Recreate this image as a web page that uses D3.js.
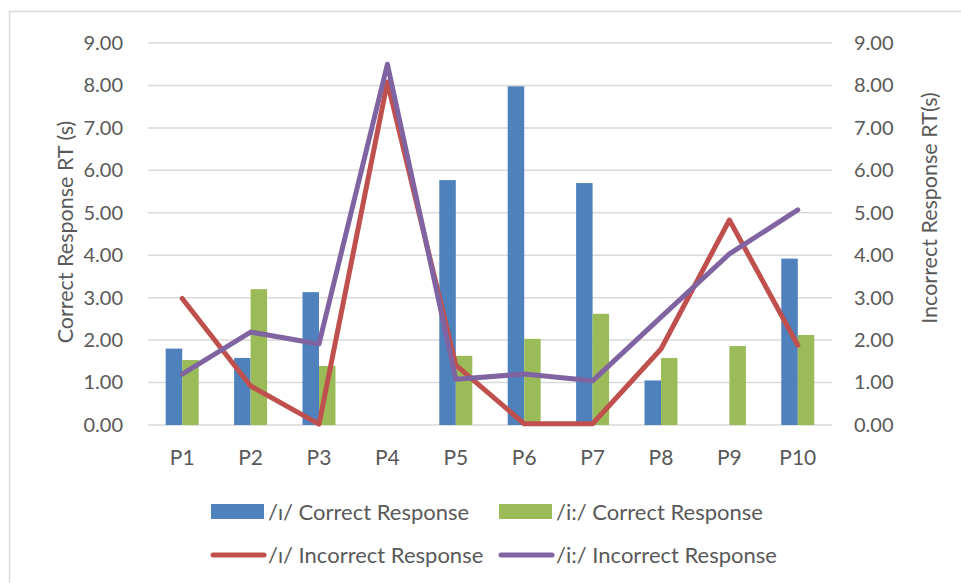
<!DOCTYPE html>
<html><head><meta charset="utf-8">
<script src="https://cdn.jsdelivr.net/npm/d3@7"></script>
<style>body{margin:0;background:#fff;}svg{display:block;font-family:Lato,"Open Sans",sans-serif;}</style>
</head><body>
<svg id="c" width="961" height="583"></svg>
<script>
const categories = ["P1","P2","P3","P4","P5","P6","P7","P8","P9","P10"];
const ihCorrect   = [1.80,1.58,3.13,0,5.77,7.98,5.70,1.05,0,3.92];
const iiCorrect   = [1.53,3.20,1.39,0,1.63,2.03,2.62,1.58,1.86,2.12];
const ihIncorrect = [2.98,0.92,0.02,8.08,1.41,0.03,0.03,1.79,4.83,1.88];
const iiIncorrect = [1.20,2.19,1.91,8.50,1.08,1.20,1.04,2.54,4.03,5.07];
const yTicks = [0,1,2,3,4,5,6,7,8,9];
const seriesNames = ["/ɪ/ Correct Response","/i:/ Correct Response","/ɪ/ Incorrect Response","/i:/ Incorrect Response"];
const colors = ["#4F81BD","#9BBB59","#C0504D","#8064A2"];

(function(){
const svg = d3.select("#c");
const pL = 148, pR = 832, pT = 43, pB = 425;
const FONT = "Lato,'Open Sans',sans-serif";

svg.append("rect").attr("x",9.5).attr("y",11.5).attr("width",1000).attr("height",700)
  .attr("fill","none").attr("stroke","#d9d9d9").attr("stroke-width",1.5);

const x = d3.scaleBand().domain(categories).range([pL,pR]);
const yL = d3.scaleLinear().domain([0,9]).range([pB,pT]);
const yR = d3.scaleLinear().domain([0,9]).range([pB,pT]);

svg.append("g").selectAll("line").data(yTicks).join("line")
  .attr("x1",pL).attr("x2",pR).attr("y1",d=>yL(d)).attr("y2",d=>yL(d))
  .attr("stroke","#d9d9d9").attr("stroke-width",1.5);

const axL = svg.append("g").attr("transform",`translate(${pL},0)`)
  .call(d3.axisLeft(yL).tickValues(yTicks).tickFormat(d3.format(".2f")).tickSize(0).tickPadding(25));
axL.select(".domain").remove();
axL.selectAll("text").attr("fill","#595959").attr("font-size",20).attr("font-family",FONT);

const axR = svg.append("g").attr("transform",`translate(${pR},0)`)
  .call(d3.axisRight(yR).tickValues(yTicks).tickFormat(d3.format(".2f")).tickSize(0).tickPadding(22));
axR.select(".domain").remove();
axR.selectAll("text").attr("fill","#595959").attr("font-size",20).attr("font-family",FONT);

const axB = svg.append("g").attr("transform",`translate(0,${pB})`)
  .call(d3.axisBottom(x).tickSize(0).tickPadding(25));
axB.select(".domain").remove();
axB.selectAll("text").attr("fill","#595959").attr("font-size",21).attr("font-family",FONT);

const inner = d3.scaleBand().domain([0,1]).range([0, 33]);
const off = (x.bandwidth()-33)/2;
[ihCorrect, iiCorrect].forEach((vals,si)=>{
  svg.append("g").selectAll("rect").data(vals).join("rect")
    .attr("x",(d,i)=>x(categories[i])+off+inner(si))
    .attr("width",inner.bandwidth())
    .attr("y",d=>yL(d)).attr("height",d=>pB-yL(d))
    .attr("fill",colors[si]);
});

const line = d3.line().x((d,i)=>x(categories[i])+x.bandwidth()/2).y(d=>yR(d));
[ihIncorrect, iiIncorrect].forEach((vals,si)=>{
  svg.append("path").datum(vals).attr("d",line).attr("fill","none")
    .attr("stroke",colors[si+2]).attr("stroke-width",5)
    .attr("stroke-linejoin","round").attr("stroke-linecap","round");
});

svg.append("text").attr("transform","translate(73,232) rotate(-90)").attr("text-anchor","middle")
  .attr("fill","#595959").attr("font-size",21.5).text("Correct Response RT (s)");
svg.append("text").attr("transform","translate(937,208) rotate(-90)").attr("text-anchor","middle")
  .attr("fill","#595959").attr("font-size",21.5).text("Incorrect Response RT(s)");

const leg = [
  {i:0, x:211, y:512, type:"rect"},
  {i:1, x:499, y:512, type:"rect"},
  {i:2, x:211, y:555, type:"line"},
  {i:3, x:499, y:555, type:"line"}
];
leg.forEach(l=>{
  if(l.type==="rect"){
    svg.append("rect").attr("x",l.x).attr("y",l.y-8).attr("width",53).attr("height",15).attr("fill",colors[l.i]);
  } else {
    svg.append("line").attr("x1",l.x+2).attr("x2",l.x+53).attr("y1",l.y).attr("y2",l.y)
      .attr("stroke",colors[l.i]).attr("stroke-width",5).attr("stroke-linecap","round");
  }
  svg.append("text").attr("x",l.x+57).attr("y",l.y+8).attr("fill","#595959").attr("font-size",22)
    .text(seriesNames[l.i]);
});
})();
</script>
</body></html>
